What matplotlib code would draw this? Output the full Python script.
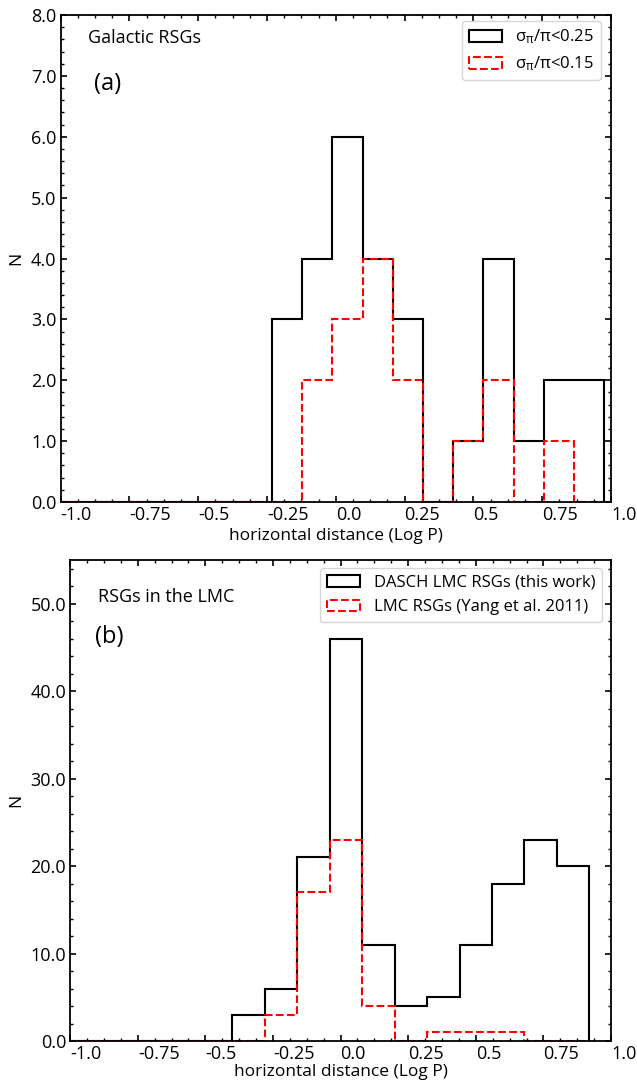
import numpy as np
import matplotlib
matplotlib.use('Agg')
import matplotlib.pyplot as plt
from matplotlib.ticker import MultipleLocator, AutoMinorLocator

plt.rcParams['font.family'] = ['Open Sans', 'DejaVu Sans']
plt.rcParams['mathtext.fontset'] = 'custom'
plt.rcParams['mathtext.rm'] = 'Open Sans'
plt.rcParams['mathtext.it'] = 'Open Sans'
plt.rcParams['mathtext.sf'] = 'Open Sans'
plt.rcParams['mathtext.default'] = 'rm'
plt.rcParams['axes.linewidth'] = 1.3

fnt_tick = 13
fnt_lab = 12.5
fnt_txt = 13
fnt_leg = 12
fnt_big = 17
lw = 1.5

# panel (a): Galactic RSGs
bins_a = np.linspace(-1.0, 0.975, 19)
n_a_025 = [0, 0, 0, 0, 0, 0, 0, 3, 4, 6, 4, 3, 0, 1, 4, 1, 2, 2]
n_a_015 = [0, 0, 0, 0, 0, 0, 0, 0, 2, 3, 4, 2, 0, 1, 2, 0, 1, 0]

# panel (b): LMC
bins_b = np.linspace(-1.0, 0.92, 17)
n_b_dasch = [0, 0, 0, 0, 0, 3, 6, 21, 46, 11, 4, 5, 11, 18, 23, 20]
n_b_yang = [0, 0, 0, 0, 0, 0, 3, 17, 23, 4, 0, 1, 1, 1, 0, 0]

xticks = [-1.0, -0.75, -0.5, -0.25, 0.0, 0.25, 0.5, 0.75, 1.0]
xtick_labels = ['-1.0', '-0.75', '-0.5', '-0.25', '0.0', '0.25', '0.5', '0.75', '1.0']

fig = plt.figure(figsize=(6.37, 10.82), dpi=100)
ax1 = fig.add_axes([60.5/637, 1 - 502/1082, 550.5/637, 487/1082])
ax2 = fig.add_axes([70.2/637, 1 - 1041/1082, 540.8/637, 481/1082])


def style(ax, ymax, ymaj, ymin_div, lpad):
    ax.set_xlim(-1.0, 1.0)
    ax.set_ylim(0, ymax)
    ax.set_xticks(xticks)
    ax.set_xticklabels(xtick_labels, ha='left')
    ax.xaxis.set_minor_locator(AutoMinorLocator(4))
    ax.yaxis.set_major_locator(MultipleLocator(ymaj))
    ax.yaxis.set_minor_locator(AutoMinorLocator(ymin_div))
    ax.yaxis.set_major_formatter(matplotlib.ticker.FormatStrFormatter('%.1f'))
    ax.tick_params(which='both', direction='in', top=True, right=True,
                   labelsize=fnt_tick)
    ax.tick_params(which='major', length=4.5, width=1.2, pad=3)
    ax.tick_params(which='minor', length=2.5, width=1.0)
    ax.set_xlabel('horizontal distance (Log P)', fontsize=fnt_lab, labelpad=lpad)
    ax.set_ylabel('N', fontsize=fnt_lab)


ax1.hist(bins_a[:-1], bins=bins_a, weights=n_a_025, histtype='step',
         color='k', lw=lw, label=r'$\sigma_{\pi}/\pi$<0.25')
ax1.hist(bins_a[:-1], bins=bins_a, weights=n_a_015, histtype='step',
         color='r', lw=lw, ls='--', label=r'$\sigma_{\pi}/\pi$<0.15')
style(ax1, 8, 1, 5, 2.5)
ax1.text(0.05, 0.953, 'Galactic RSGs', transform=ax1.transAxes,
         fontsize=fnt_txt, va='center')
ax1.text(0.06, 0.858, '(a)', transform=ax1.transAxes,
         fontsize=fnt_big, va='center')
ax1.legend(loc='upper right', bbox_to_anchor=(0.981, 0.988), borderaxespad=0,
           fontsize=fnt_leg)
ax1.yaxis.set_label_coords(-0.066, 0.5)

ax2.hist(bins_b[:-1], bins=bins_b, weights=n_b_dasch, histtype='step',
         color='k', lw=lw, label='DASCH LMC RSGs (this work)')
ax2.hist(bins_b[:-1], bins=bins_b, weights=n_b_yang, histtype='step',
         color='r', lw=lw, ls='--', label='LMC RSGs (Yang et al. 2011)')
style(ax2, 55, 10, 5, 0.5)
ax2.text(0.051, 0.923, 'RSGs in the LMC', transform=ax2.transAxes,
         fontsize=fnt_txt, va='center')
ax2.text(0.045, 0.84, '(b)', transform=ax2.transAxes,
         fontsize=fnt_big, va='center')
ax2.legend(loc='upper right', bbox_to_anchor=(0.983, 0.983), borderaxespad=0,
           fontsize=fnt_leg)
ax2.yaxis.set_label_coords(-0.085, 0.5)

fig.savefig('out.png', dpi=100)
plt.close()
